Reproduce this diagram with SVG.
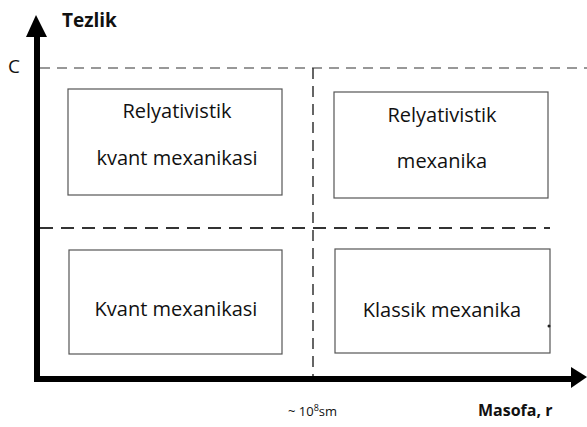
<svg xmlns="http://www.w3.org/2000/svg" width="587" height="427" viewBox="0 0 587 427">
<style>
.box{fill:#fff;stroke:#555;stroke-width:1.2}
.t{font-family:"Open Sans","Noto Sans","Liberation Sans",sans-serif;font-size:20px;fill:#111;text-anchor:middle}
.lab{font-family:"Open Sans","Noto Sans","Liberation Sans",sans-serif;fill:#111}
.b{font-weight:bold}
.axis{stroke:#000;stroke-width:6;fill:none}
.dash{stroke:#333;fill:none}
</style>
<rect width="587" height="427" fill="#fff"/>
<g id="connectors">
  <line class="dash" x1="40" y1="68" x2="587" y2="68" stroke-width="1.1" stroke-dasharray="10 7"/>
  <line class="dash" x1="40" y1="228" x2="550" y2="228" stroke-width="1.8" stroke-dasharray="13 8"/>
  <line class="dash" x1="313" y1="68" x2="313" y2="379" stroke-width="1.5" stroke-dasharray="11 7"/>
</g>
<g id="axes">
  <path class="axis" d="M37 30 V379 H574"/>
  <polygon points="36,15 47,37 26,37" fill="#000"/>
  <polygon points="587,377 571,367 571,388" fill="#000"/>
  <text class="lab b" x="62" y="27" font-size="19">Tezlik</text>
  <text class="lab" x="8" y="73" font-size="19">C</text>
  <text class="lab" x="288" y="416" font-size="13">~ 10<tspan font-size="9" dy="-5">8</tspan><tspan dy="5">sm</tspan></text>
  <text class="lab b" x="478" y="416" font-size="16">Masofa, r</text>
</g>
<g id="rel-kvant">
  <rect class="box" x="68" y="89" width="214" height="106"/>
  <text class="t" x="177" y="118">Relyativistik</text>
  <text class="t" x="177" y="165">kvant mexanikasi</text>
</g>
<g id="rel-mex">
  <rect class="box" x="334" y="92" width="214" height="106"/>
  <text class="t" x="442" y="122">Relyativistik</text>
  <text class="t" x="442" y="168">mexanika</text>
</g>
<g id="kvant">
  <rect class="box" x="69" y="250" width="213" height="104"/>
  <text class="t" x="176" y="316">Kvant mexanikasi</text>
</g>
<g id="klassik">
  <rect class="box" x="335" y="249" width="215" height="104"/>
  <text class="t" x="442" y="317">Klassik mexanika</text>
  <circle cx="549" cy="326" r="1.5" fill="#222"/>
</g>
</svg>
